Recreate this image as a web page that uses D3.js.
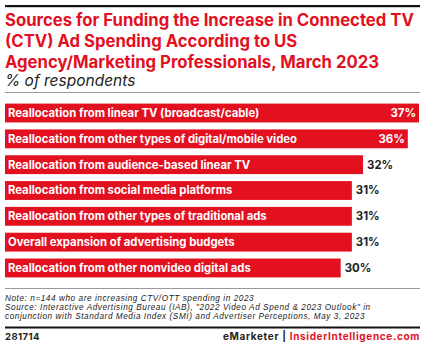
<!DOCTYPE html>
<html lang="en">
<head>
<meta charset="UTF-8">
<title>CTV Ad Spending Funding Sources</title>
<style>
    body { margin: 0; padding: 0; background: #ffffff; }
    svg { display: block; font-family: 'Inter', sans-serif; }
</style>
</head>
<body>
<svg id="chart" width="425" height="346"></svg>
<script src="https://d3js.org/d3.v7.min.js"></script>
<script>
    const categories = [
        "Reallocation from linear TV (broadcast/cable)",
        "Reallocation from other types of digital/mobile video",
        "Reallocation from audience-based linear TV",
        "Reallocation from social media platforms",
        "Reallocation from other types of traditional ads",
        "Overall expansion of advertising budgets",
        "Reallocation from other nonvideo digital ads"
    ];
    const values = [37, 36, 32, 31, 31, 31, 30];
    const titleLines = [
        "Sources for Funding the Increase in Connected TV",
        "(CTV) Ad Spending According to US",
        "Agency/Marketing Professionals, March 2023"
    ];
    const subtitle = "% of respondents";
    const noteLines = [
        "Note: n=144 who are increasing CTV/OTT spending in 2023",
        "Source: Interactive Advertising Bureau (IAB), \"2022 Video Ad Spend & 2023 Outlook\" in",
        "conjunction with Standard Media Index (SMI) and Advertiser Perceptions, May 3, 2023"
    ];
    const chartId = "281714";

    const red = "#e3101f";
    const svg = d3.select("#chart");

    // header
    svg.append("rect").attr("x", 5).attr("y", 5).attr("width", 415).attr("height", 2.2).attr("fill", "#111");
    const title = svg.append("text")
        .attr("fill", red)
        .attr("font-size", 16.7)
        .attr("font-weight", 700);
    title.selectAll("tspan")
        .data(titleLines)
        .enter()
        .append("tspan")
        .attr("x", 5)
        .attr("y", (d, i) => 26 + i * 21)
        .text(d => d);
    svg.append("text")
        .attr("x", 5).attr("y", 86)
        .attr("font-size", 15.5).attr("font-style", "italic")
        .attr("fill", "#222")
        .text(subtitle);
    svg.append("rect").attr("x", 5).attr("y", 92).attr("width", 415).attr("height", 1).attr("fill", "#999");

    // bars
    const x = d3.scaleLinear().domain([0, 37]).range([5, 419]);
    const y = d3.scaleBand().domain(categories).range([100.5, 280.5]).paddingInner(0.27).paddingOuter(0.12);

    const rows = svg.selectAll("g.row")
        .data(categories.map((c, i) => ({name: c, value: values[i]})))
        .enter()
        .append("g")
        .attr("class", "row");

    rows.append("rect")
        .attr("x", x(0))
        .attr("y", d => y(d.name))
        .attr("width", d => x(d.value) - x(0))
        .attr("height", y.bandwidth())
        .attr("fill", red);

    rows.append("text")
        .attr("x", x(0) + 3)
        .attr("y", d => y(d.name) + y.bandwidth() / 2)
        .attr("dy", "0.35em")
        .attr("fill", "#fff")
        .attr("font-size", 11.3)
        .attr("font-weight", 700)
        .text(d => d.name);

    // values: inside the bar when it is long enough, otherwise just past its end
    rows.append("text")
        .attr("x", d => d.value >= 36 ? x(d.value) - 3 : x(d.value) + 4)
        .attr("y", d => y(d.name) + y.bandwidth() / 2)
        .attr("dy", "0.35em")
        .attr("text-anchor", d => d.value >= 36 ? "end" : "start")
        .attr("fill", d => d.value >= 36 ? "#fff" : "#222")
        .attr("font-size", 11.4)
        .attr("font-weight", 700)
        .text(d => d.value + "%");

    // footer
    svg.append("rect").attr("x", 5).attr("y", 288).attr("width", 415).attr("height", 1).attr("fill", "#999");
    svg.selectAll("text.note")
        .data(noteLines)
        .enter()
        .append("text")
        .attr("class", "note")
        .attr("x", 5)
        .attr("y", (d, i) => 300.5 + i * 9.25)
        .attr("font-family", "'Liberation Sans', sans-serif")
        .attr("font-size", 8.2)
        .attr("font-style", "italic")
        .attr("letter-spacing", 0.57)
        .attr("fill", "#222")
        .text(d => d);
    svg.append("rect").attr("x", 5).attr("y", 326.5).attr("width", 415).attr("height", 2).attr("fill", "#111");
    svg.append("text")
        .attr("x", 5).attr("y", 340)
        .attr("font-size", 9.5).attr("font-weight", 700).attr("fill", "#222")
        .attr("letter-spacing", 0.4)
        .text(chartId);
    const brand = svg.append("text")
        .attr("x", 420).attr("y", 340)
        .attr("text-anchor", "end")
        .attr("font-size", 10).attr("font-weight", 700)
        .attr("letter-spacing", 0.65);
    brand.append("tspan").attr("fill", "#222").text("eMarketer");
    brand.append("tspan").attr("fill", "#222").attr("dx", 3).text("|");
    brand.append("tspan").attr("fill", red).attr("dx", 3).text("InsiderIntelligence.com");
</script>
</body>
</html>
